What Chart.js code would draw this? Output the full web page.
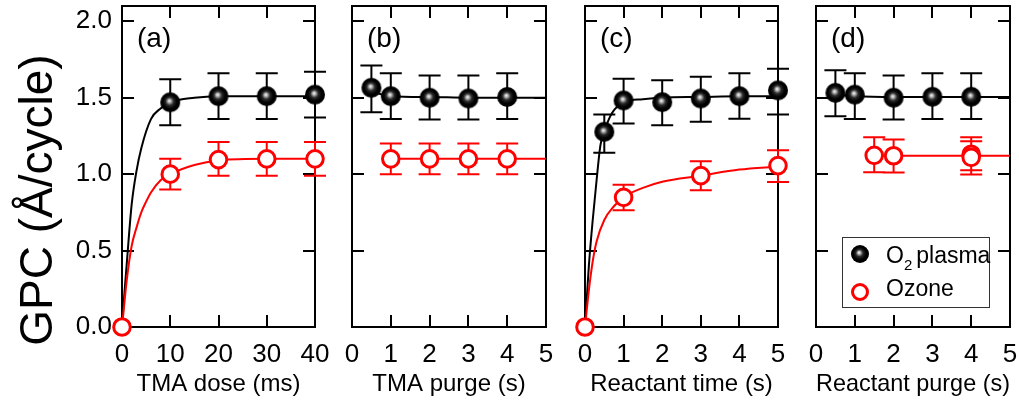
<!DOCTYPE html>
<html>
<head>
<meta charset="utf-8">
<script src="https://cdn.jsdelivr.net/npm/chart.js@4.4.1/dist/chart.umd.min.js"></script>
<style>
    html, body { margin: 0; padding: 0; background: #fff; }
    #wrap { position: relative; width: 1019px; height: 404px; overflow: hidden; }
    #wrap canvas { position: absolute; top: 0; }
</style>
</head>
<body>
<div id="wrap">
    <canvas id="ca" width="330" height="404" style="left:0px"></canvas>
    <canvas id="cb" width="230" height="404" style="left:330px"></canvas>
    <canvas id="cc" width="230" height="404" style="left:560px"></canvas>
    <canvas id="cd" width="229" height="404" style="left:790px"></canvas>
</div>
<script>
// tick labels
const yTicks = [0, 0.5, 1.0, 1.5, 2.0];
const doseTicks = [0, 10, 20, 30, 40];
const secTicks = [0, 1, 2, 3, 4, 5];

// (a) TMA dose (ms)
const doseX = [0, 10, 20, 30, 40];
const doseO2 = [null, 1.47, 1.51, 1.51, 1.52];
const doseO2Hi = [null, 1.62, 1.66, 1.66, 1.67];
const doseO2Lo = [null, 1.32, 1.36, 1.36, 1.37];
const doseO3 = [0, 1.00, 1.095, 1.10, 1.10];
const doseO3Hi = [null, 1.10, 1.21, 1.21, 1.21];
const doseO3Lo = [null, 0.90, 0.99, 0.99, 0.99];
const doseFitX = [0, 0.5, 1, 2, 3, 4, 6, 8, 10, 15, 20, 30, 40];
const doseFitO2 = [0, 0.22, 0.42, 0.80, 1.02, 1.17, 1.36, 1.43, 1.47, 1.50, 1.51, 1.51, 1.51];
const doseFitX3 = [0, 1, 2, 3, 4, 5, 6, 8, 10, 15, 20, 30, 40];
const doseFitO3 = [0, 0.31, 0.53, 0.65, 0.75, 0.82, 0.88, 0.96, 1.00, 1.06, 1.09, 1.10, 1.10];

// (b) TMA purge (s)
const purgeX = [0.5, 1, 2, 3, 4];
const purgeO2 = [1.565, 1.51, 1.50, 1.495, 1.505];
const purgeO2Hi = [1.71, 1.66, 1.645, 1.645, 1.66];
const purgeO2Lo = [1.405, 1.36, 1.357, 1.357, 1.36];
const purgeX3 = [1, 2, 3, 4];
const purgeO3 = [1.10, 1.10, 1.10, 1.10];
const purgeO3Hi = [1.20, 1.20, 1.20, 1.20];
const purgeO3Lo = [1.00, 1.00, 1.00, 1.00];
const purgeFitX = [0.5, 1, 2, 3, 4, 5];
const purgeFitO2 = [1.54, 1.51, 1.505, 1.50, 1.50, 1.50];
const purgeFitX3 = [1, 5];
const purgeFitO3 = [1.10, 1.10];

// (c) Reactant time (s)
const timeX = [0.5, 1, 2, 3, 4, 5];
const timeO2 = [1.277, 1.482, 1.471, 1.495, 1.51, 1.548];
const timeO2Hi = [1.39, 1.624, 1.615, 1.637, 1.66, 1.69];
const timeO2Lo = [1.14, 1.331, 1.32, 1.342, 1.362, 1.39];
const timeX3 = [0, 1, 3, 5];
const timeO3 = [0, 0.848, 0.99, 1.056];
const timeO3Hi = [null, 0.93, 1.084, 1.156];
const timeO3Lo = [null, 0.763, 0.894, 0.949];
const timeFitX = [0, 0.1, 0.2, 0.3, 0.4, 0.5, 0.7, 1, 1.5, 2, 3, 4, 5];
const timeFitO2 = [0, 0.40, 0.70, 0.96, 1.19, 1.28, 1.40, 1.47, 1.49, 1.50, 1.505, 1.51, 1.51];
const timeFitX3 = [0, 0.1, 0.2, 0.3, 0.5, 0.75, 1, 1.5, 2, 3, 4, 5];
const timeFitO3 = [0, 0.24, 0.43, 0.56, 0.70, 0.79, 0.85, 0.91, 0.95, 0.99, 1.03, 1.05];

// (d) Reactant purge (s)
const rpurgeX = [0.5, 1, 2, 3, 4];
const rpurgeO2 = [1.532, 1.52, 1.50, 1.506, 1.506];
const rpurgeO2Hi = [1.68, 1.66, 1.646, 1.66, 1.66];
const rpurgeO2Lo = [1.379, 1.36, 1.357, 1.36, 1.36];
const rpurgeX3 = [1.5, 2, 4, 4];
const rpurgeO3 = [1.123, 1.12, 1.13, 1.11];
const rpurgeO3Hi = [1.241, 1.226, 1.241, 1.215];
const rpurgeO3Lo = [1.012, 1.01, 1.025, 0.997];
const rpurgeFitX = [0.5, 1, 2, 3, 4, 5];
const rpurgeFitO2 = [1.52, 1.51, 1.505, 1.505, 1.505, 1.505];
const rpurgeFitX3 = [1.5, 5];
const rpurgeFitO3 = [1.12, 1.12];

const FONT = "'Liberation Sans', Arial, sans-serif";
Chart.defaults.font.family = FONT;
Chart.defaults.color = '#000';

function makeSphere(r) {
    const c = document.createElement('canvas');
    const s = 2 * r + 2;
    c.width = s; c.height = s;
    const g = c.getContext('2d');
    const cx = s / 2, cy = s / 2;
    const grd = g.createRadialGradient(cx - 1, cy - 1.5, 0, cx, cy, r);
    grd.addColorStop(0, '#ffffff');
    grd.addColorStop(0.14, '#c0c0c0');
    grd.addColorStop(0.4, '#2a2a2a');
    grd.addColorStop(0.7, '#000');
    grd.addColorStop(1, '#000');
    g.fillStyle = grd;
    g.beginPath(); g.arc(cx, cy, r, 0, Math.PI * 2); g.fill();
    return c;
}
const sphere = makeSphere(10);
const sphereSmall = makeSphere(9);

function pts(xs, ys, hi, lo) {
    const out = [];
    xs.forEach((x, i) => {
        if (ys[i] == null) return;
        out.push({ x: x, y: ys[i], hi: hi ? hi[i] : null, lo: lo ? lo[i] : null });
    });
    return out;
}

// frame, inward ticks, error bars, panel letters, legend
const decor = {
    id: 'decor',
    beforeDatasetsDraw(chart, args, o) {
        const { ctx, chartArea: a, scales: { x, y } } = chart;
        ctx.save();
        ctx.strokeStyle = '#000';
        ctx.lineWidth = 2;
        ctx.strokeRect(a.left, a.top, a.right - a.left, a.bottom - a.top);
        ctx.beginPath();
        o.xTicks.forEach(v => {
            if (v <= x.min || v >= x.max) return;
            const px = Math.round(x.getPixelForValue(v));
            ctx.moveTo(px, a.bottom); ctx.lineTo(px, a.bottom - 12);
            ctx.moveTo(px, a.top); ctx.lineTo(px, a.top + 12);
        });
        yTicks.forEach(v => {
            if (v <= y.min) return;
            const py = Math.round(y.getPixelForValue(v));
            ctx.moveTo(a.left, py); ctx.lineTo(a.left + 12, py);
            ctx.moveTo(a.right, py); ctx.lineTo(a.right - 12, py);
        });
        ctx.stroke();

        chart.data.datasets.forEach(ds => {
            if (!ds.errColor) return;
            ctx.strokeStyle = ds.errColor;
            ctx.lineWidth = 2;
            ctx.beginPath();
            ds.data.forEach(d => {
                if (d.hi == null) return;
                const px = x.getPixelForValue(d.x);
                const ph = y.getPixelForValue(d.hi);
                const pl = y.getPixelForValue(d.lo);
                ctx.moveTo(px, ph); ctx.lineTo(px, pl);
                ctx.moveTo(px - 11, ph); ctx.lineTo(px + 11, ph);
                ctx.moveTo(px - 11, pl); ctx.lineTo(px + 11, pl);
            });
            ctx.stroke();
        });
        ctx.restore();
    },
    afterDraw(chart, args, o) {
        const { ctx, chartArea: a } = chart;
        ctx.save();
        ctx.fillStyle = '#000';
        ctx.font = '28px ' + FONT;
        ctx.textBaseline = 'middle';
        ctx.textAlign = 'left';
        ctx.fillText(o.label, a.left + 15, a.top + 33);

        if (o.yTitle) {
            ctx.save();
            ctx.translate(52, 200);
            ctx.rotate(-Math.PI / 2);
            ctx.font = '46px ' + FONT;
            ctx.textAlign = 'center';
            ctx.textBaseline = 'alphabetic';
            ctx.fillText(o.yTitle, 0, 0);
            ctx.restore();
        }

        if (o.legend) {
            const bx = a.left + 26, by = 237;
            ctx.strokeStyle = '#333';
            ctx.lineWidth = 1;
            ctx.strokeRect(bx + 0.5, by + 0.5, 147, 70);
            ctx.drawImage(sphereSmall, bx + 8, by + 7);
            ctx.beginPath();
            ctx.arc(bx + 18, by + 55, 7.5, 0, Math.PI * 2);
            ctx.fillStyle = '#fff'; ctx.fill();
            ctx.strokeStyle = '#ff0000'; ctx.lineWidth = 3; ctx.stroke();
            ctx.fillStyle = '#000';
            ctx.textBaseline = 'alphabetic';
            ctx.font = '23px ' + FONT;
            let tx = bx + 44;
            ctx.fillText('O', tx, by + 26);
            tx += ctx.measureText('O').width;
            ctx.font = '15px ' + FONT;
            ctx.fillText('2', tx, by + 33);
            tx += ctx.measureText('2').width + 4;
            ctx.font = '23px ' + FONT;
            ctx.fillText('plasma', tx, by + 26);
            ctx.fillText('Ozone', bx + 44, by + 59);
        }
        ctx.restore();
    }
};

function panel(id, cfg) {
    const datasets = [
        {   // ozone markers
            data: cfg.o3, pointStyle: 'circle', pointRadius: 8.3, borderWidth: 3,
            borderColor: '#ff0000', backgroundColor: '#ffffff', errColor: '#ff0000',
            clip: false, order: 0
        },
        {   // O2 plasma markers
            data: cfg.o2, pointStyle: sphere, errColor: '#000000',
            clip: false, order: 1
        },
        {
            data: cfg.fit3, showLine: true, pointRadius: 0, borderColor: '#ff0000', borderWidth: 2,
            cubicInterpolationMode: 'monotone', clip: false, order: 2
        },
        {
            data: cfg.fit2, showLine: true, pointRadius: 0, borderColor: '#000000', borderWidth: 2,
            cubicInterpolationMode: 'monotone', clip: false, order: 3
        }
    ];
    return new Chart(document.getElementById(id), {
        type: 'scatter',
        data: { datasets: datasets },
        options: {
            responsive: false,
            animation: false,
            events: [],
            layout: { autoPadding: false, padding: { left: cfg.padL, right: cfg.padR, top: 6, bottom: 0 } },
            scales: {
                x: {
                    type: 'linear',
                    min: cfg.xTicks[0],
                    max: cfg.xTicks[cfg.xTicks.length - 1],
                    afterBuildTicks: s => { s.ticks = cfg.xTicks.map(v => ({ value: v })); },
                    afterFit: s => { s.height = 77; s.paddingLeft = 0; s.paddingRight = 0; },
                    grid: { display: false, drawTicks: false },
                    border: { display: false },
                    ticks: { font: { size: 26 }, padding: 12, maxRotation: 0, autoSkip: false, callback: v => String(v) },
                    title: { display: true, text: cfg.xTitle, font: { size: 24 }, padding: { top: 4, bottom: 5 } }
                },
                y: {
                    type: 'linear',
                    display: cfg.showY,
                    min: 0,
                    max: 2.1,
                    afterBuildTicks: s => { s.ticks = yTicks.map(v => ({ value: v })); },
                    afterFit: s => { s.width = cfg.showY ? 122 : 0; s.paddingTop = 0; s.paddingBottom = 0; },
                    grid: { display: false, drawTicks: false },
                    border: { display: false },
                    ticks: { font: { size: 26 }, padding: 10, callback: v => v.toFixed(1) }
                }
            },
            plugins: {
                legend: { display: false },
                tooltip: { enabled: false },
                decor: { label: cfg.label, xTicks: cfg.xTicks, yTitle: cfg.yTitle, legend: cfg.legend }
            }
        },
        plugins: [decor]
    });
}

panel('ca', {
    label: '(a)', xTitle: 'TMA dose (ms)', xTicks: doseTicks, showY: true, padL: 0, padR: 15,
    yTitle: 'GPC (Å/cycle)',
    o2: pts(doseX, doseO2, doseO2Hi, doseO2Lo), o3: pts(doseX, doseO3, doseO3Hi, doseO3Lo),
    fit2: pts(doseFitX, doseFitO2), fit3: pts(doseFitX3, doseFitO3)
});
panel('cb', {
    label: '(b)', xTitle: 'TMA purge (s)', xTicks: secTicks, showY: false, padL: 22, padR: 14,
    o2: pts(purgeX, purgeO2, purgeO2Hi, purgeO2Lo), o3: pts(purgeX3, purgeO3, purgeO3Hi, purgeO3Lo),
    fit2: pts(purgeFitX, purgeFitO2), fit3: pts(purgeFitX3, purgeFitO3)
});
panel('cc', {
    label: '(c)', xTitle: 'Reactant time (s)', xTicks: secTicks, showY: false, padL: 25, padR: 12,
    o2: pts(timeX, timeO2, timeO2Hi, timeO2Lo), o3: pts(timeX3, timeO3, timeO3Hi, timeO3Lo),
    fit2: pts(timeFitX, timeFitO2), fit3: pts(timeFitX3, timeFitO3)
});
panel('cd', {
    label: '(d)', xTitle: 'Reactant purge (s)', xTicks: secTicks, showY: false, padL: 26, padR: 9,
    legend: true,
    o2: pts(rpurgeX, rpurgeO2, rpurgeO2Hi, rpurgeO2Lo), o3: pts(rpurgeX3, rpurgeO3, rpurgeO3Hi, rpurgeO3Lo),
    fit2: pts(rpurgeFitX, rpurgeFitO2), fit3: pts(rpurgeFitX3, rpurgeFitO3)
});
</script>
</body>
</html>
